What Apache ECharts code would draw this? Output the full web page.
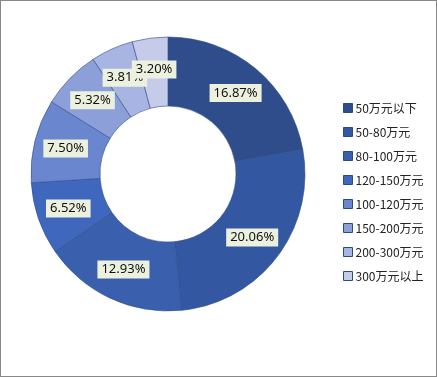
<!DOCTYPE html>
<html>
<head>
<meta charset="utf-8">
<script src="https://cdn.jsdelivr.net/npm/echarts@6/dist/echarts.min.js"></script>
<style>
  html, body { margin: 0; padding: 0; background: #fff; }
  #chart { width: 435px; height: 375px; border: 1px solid #888; }
</style>
</head>
<body>
<div id="chart"></div>
<script>
const CATEGORIES = ['50万元以下', '50-80万元', '80-100万元', '120-150万元', '100-120万元', '150-200万元', '200-300万元', '300万元以上']
const VALUES = [16.87, 20.06, 12.93, 6.52, 7.50, 5.32, 3.81, 3.20]
const COLORS = ['#2E4D8A', '#3357A0', '#3A60AD', '#3F67BD', '#6A86CF', '#8D9FD8', '#A8B4E1', '#C5CBE9']

const chart = echarts.init(document.getElementById('chart'))

chart.setOption({
  backgroundColor: '#fff',
  animation: false,
  color: COLORS,
  legend: {
    orient: 'vertical',
    left: 337,
    top: 96,
    itemWidth: 9,
    itemHeight: 9,
    itemGap: 12,
    icon: 'rect',
    itemStyle: { borderColor: '#2B4A80', borderWidth: 1 },
    textStyle: { fontFamily: 'Noto Sans CJK SC', fontSize: 12, color: '#222', padding: [0, 0, 0, -2] },
    data: CATEGORIES
  },
  series: [{
    type: 'pie',
    center: [167, 173],
    radius: [68, 137],
    startAngle: 90,
    clockwise: true,
    avoidLabelOverlap: false,
    itemStyle: { borderColor: '#2F4F8A', borderWidth: 0.6 },
    label: {
      show: true,
      position: 'inside',
      formatter: (p) => p.value.toFixed(2) + '%',
      color: '#111',
      fontFamily: 'Noto Sans',
      fontSize: 13,
      backgroundColor: '#EBF1DE',
      padding: [3, 4, 2, 4]
    },
    labelLayout: { hideOverlap: false },
    labelLine: { show: false },
    data: CATEGORIES.map((name, i) => ({ name, value: VALUES[i] }))
  }]
})
</script>
</body>
</html>
